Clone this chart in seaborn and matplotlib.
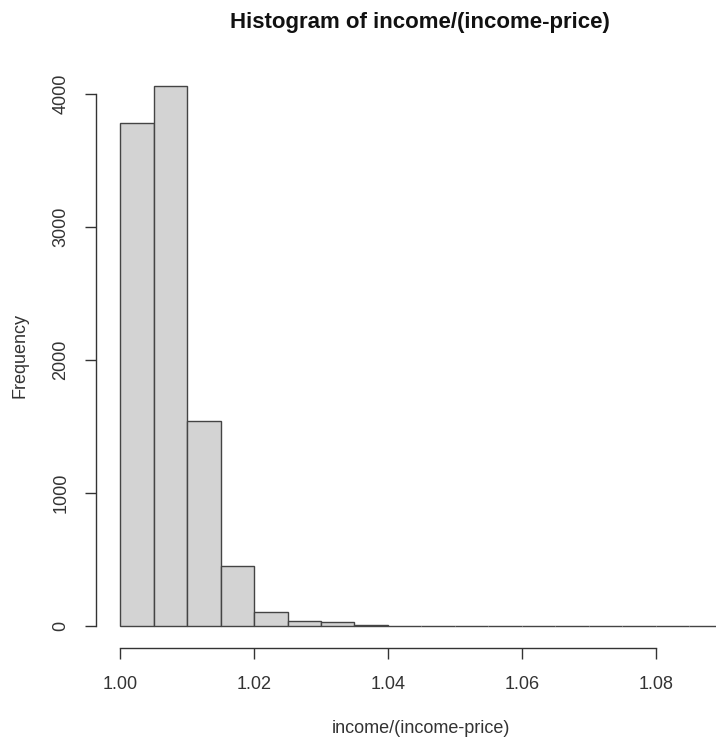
import matplotlib
matplotlib.use("Agg")
import matplotlib.pyplot as plt
import seaborn as sns

# bin left edges and counts
bin_left = [1.000, 1.005, 1.010, 1.015, 1.020, 1.025, 1.030, 1.035, 1.040,
            1.045, 1.050, 1.055, 1.060, 1.065, 1.070, 1.075, 1.080, 1.085]
counts = [3782, 4065, 1540, 450, 105, 40, 28, 10, 3,
          4, 1, 1, 0, 1, 0, 0, 1, 0]
bin_edges = bin_left + [1.090]
x_ticks = [1.00, 1.02, 1.04, 1.06, 1.08]
y_ticks = [0, 1000, 2000, 3000, 4000]

sns.set_style("white")
plt.rcParams["font.family"] = ["Liberation Sans", "DejaVu Sans"]

W, H = 716, 739
fig = plt.figure(figsize=(W / 100, H / 100), dpi=100)
ax = fig.add_axes([96 / W, (H - 648) / H, 620 / W, 584 / H])

sns.histplot(x=bin_left, weights=counts, bins=bin_edges, ax=ax,
             color="#d3d3d3", edgecolor="#444444", linewidth=1.0, alpha=1.0)

ax.set_xlim(0.99641, 1.08897)
ax.set_ylim(-165, 4227)
for s in ["top", "right"]:
    ax.spines[s].set_visible(False)
ax.spines["left"].set_bounds(0, 4000)
ax.spines["bottom"].set_bounds(1.00, 1.08)
for s in ["left", "bottom"]:
    ax.spines[s].set_color("#333333")
    ax.spines[s].set_linewidth(1.0)

ax.set_xticks(x_ticks)
ax.set_xticklabels([f"{v:.2f}" for v in x_ticks])
ax.set_yticks(y_ticks)
ax.set_yticklabels([str(v) for v in y_ticks], rotation=90, va="center")
ax.tick_params(axis="both", direction="out", length=8, width=1.0,
               color="#333333", labelsize=13, labelcolor="#333333",
               bottom=True, left=True)
ax.tick_params(axis="x", pad=12)
ax.tick_params(axis="y", pad=11)
ax.set_xlabel("")
ax.set_ylabel("")

fig.text(421 / W, (H - 733) / H, "income/(income-price)", ha="center",
         va="baseline", fontsize=13, color="#333333")
fig.text(20 / W, (H - 356) / H, "Frequency", ha="center", va="center",
         rotation=90, fontsize=13, color="#333333")
fig.text(420 / W, (H - 28) / H, "Histogram of income/(income-price)",
         ha="center", va="baseline", fontsize=16, fontweight="bold",
         color="#111111")

fig.savefig("out.png", dpi=100)
